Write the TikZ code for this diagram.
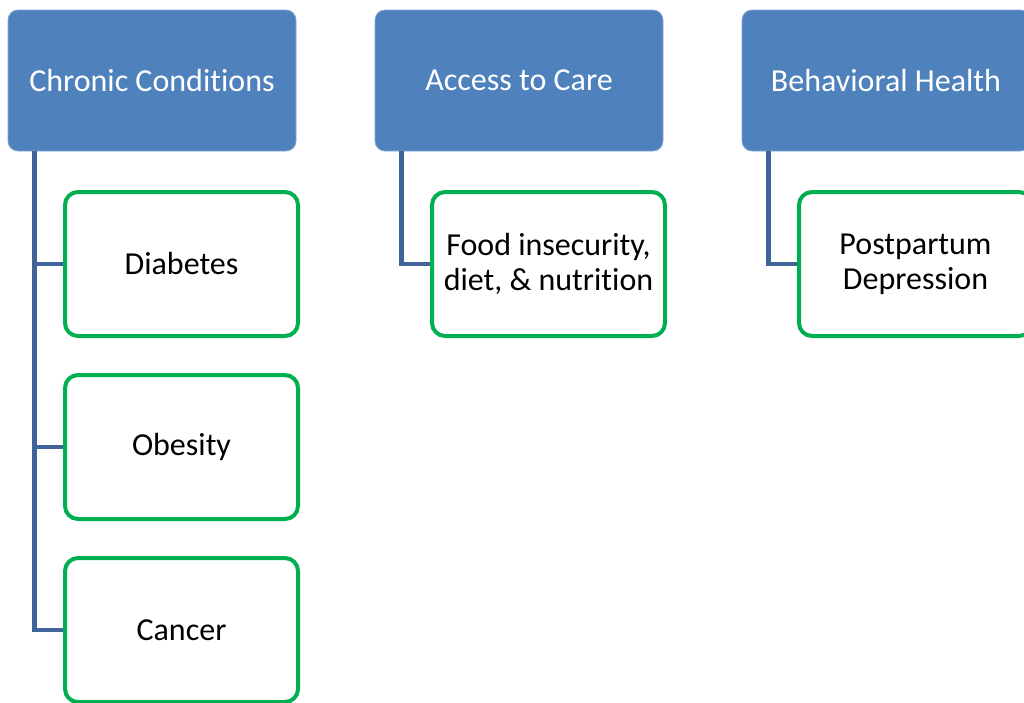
\documentclass[tikz,border=0pt]{standalone}
\usepackage{fontspec}
\setmainfont[Ligatures={TeX,NoCommon}]{Carlito}
\usepackage{tikz}
\usetikzlibrary{positioning}
\definecolor{hdrblue}{HTML}{4F81BD}
\definecolor{linkblue}{HTML}{3E6499}
\definecolor{boxgreen}{HTML}{00B050}

\begin{document}
\begin{tikzpicture} [x=1pt,y=-1pt,
		header/.style={fill=hdrblue,draw=hdrblue!70!white,line width=0.8pt,rounded corners=10pt,minimum width=288pt,minimum height=141pt,text=white,font=\fontsize{32}{35}\selectfont,align=center,inner sep=0pt},
		leaf/.style={fill=white,draw=boxgreen,line width=4pt,rounded corners=13pt,minimum width=233pt,minimum height=144pt,font=\fontsize{32}{35}\selectfont,align=center,inner sep=0pt},
		link/.style={draw=linkblue,line width=4.5pt}]
			\useasboundingbox (0,0) rectangle (1024,702);
			\clip (0,0) rectangle (1024,702);
			% top row
			\node[header] (chronic) at (152,80.5) {Chronic Conditions};
			\node[header] (access) at (519,80.5) {Access to Care};
			\node[header] (behav) at (886,80.5) {Behavioral Health};
			% children
			\node[leaf] (diabetes) at (181.5,264) {Diabetes};
			\node[leaf] (obesity) at (181.5,447) {Obesity};
			\node[leaf] (cancer) at (181.5,630) {Cancer};
			\node[leaf] (food) at (548.5,264) {Food insecurity,\\diet, \& nutrition};
			\node[leaf] (ppd) at (915.5,264) {Postpartum\\Depression};
			% connectors
			\foreach \kid in {diabetes,obesity,cancer}
				\draw[link] ([xshift=27pt]chronic.south west) |- (\kid.west);
			\draw[link] ([xshift=27pt]access.south west) |- (food.west);
			\draw[link] ([xshift=27pt]behav.south west) |- (ppd.west);
		\end{tikzpicture}
\end{document}
